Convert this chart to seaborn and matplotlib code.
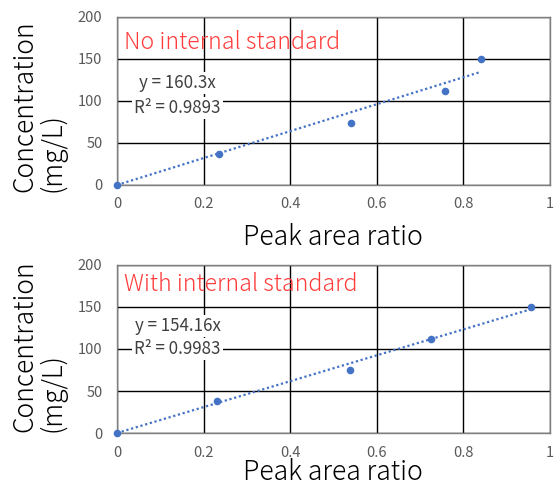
import matplotlib

matplotlib.use("Agg")
import matplotlib.pyplot as plt
import numpy as np
import pandas as pd
import seaborn as sns

# data
ratio_no_is = [0, 0.236, 0.540, 0.758, 0.840]
conc_no_is = [0, 37, 74, 112, 150]
slope_no_is = 160.3

ratio_is = [0, 0.230, 0.537, 0.725, 0.955]
conc_is = [0, 38, 75, 112, 150]
slope_is = 154.16

titles = ["No internal standard", "With internal standard"]
slope_labels = ["y = 160.3x", "y = 154.16x"]
r2_labels = ["R² = 0.9893", "R² = 0.9983"]
x_ticks = [0, 0.2, 0.4, 0.6, 0.8, 1.0]
x_tick_labels = ["0", "0.2", "0.4", "0.6", "0.8", "1"]
y_ticks = [0, 50, 100, 150, 200]

sns.set_style("white")
plt.rcParams["font.family"] = ["Noto Sans CJK JP", "DejaVu Sans"]

BLUE = "#4472C4"
RED = "#FF3B3B"
GREY = "#595959"

W, H = 554, 486
fig = plt.figure(figsize=(W / 100, H / 100), dpi=100)

# per panel: data, slope, axes top px, title y, eq y, r2 y, ylabel bottom px, xlabel baseline px
panels = [
    (ratio_no_is, conc_no_is, slope_no_is, 17, 0.851, 0.607, 0.458, 192, 245),
    (ratio_is, conc_is, slope_is, 265, 0.881, 0.637, 0.500, 432, 480),
]

for i, (xs, ys, slope, top_px, ty, ey, ry, ylab_px, xlab_px) in enumerate(panels):
    ax = fig.add_axes([117 / W, (H - top_px - 168) / H, 433 / W, 168 / H])
    df = pd.DataFrame({"ratio": xs, "conc": ys})
    fit = pd.DataFrame({"ratio": [0, max(xs)]})
    fit["conc"] = slope * fit["ratio"]

    sns.lineplot(data=fit, x="ratio", y="conc", ax=ax, color=BLUE,
                 linestyle=(0, (1, 1.2)), linewidth=1.6, zorder=3)
    sns.scatterplot(data=df, x="ratio", y="conc", ax=ax, color=BLUE,
                    s=30, edgecolor=BLUE, linewidth=0, zorder=4, clip_on=False)

    ax.set_xlim(0, 1)
    ax.set_ylim(0, 200)
    ax.set_xticks(x_ticks)
    ax.set_xticklabels(x_tick_labels)
    ax.set_yticks(y_ticks)
    ax.grid(True, color="black", linewidth=1.0)
    ax.set_axisbelow(True)
    for s in ax.spines.values():
        s.set_color("#7f7f7f")
        s.set_linewidth(1.0)
    ax.tick_params(length=0, labelsize=10.5, labelcolor=GREY)
    ax.tick_params(axis="x", pad=9)
    ax.tick_params(axis="y", pad=10.5)
    ax.set_xlabel("")
    ax.set_ylabel("")

    fig.text(333 / W, (H - xlab_px) / H, "Peak area ratio", fontsize=19.2,
             fontweight="light", color="black", ha="center", va="baseline")
    fig.text(38 / W, (H - ylab_px) / H, "Concentration\n(mg/L)", fontsize=19,
             fontweight="light", color="black", rotation=90, ha="center",
             va="bottom", multialignment="left", linespacing=1.0)

    ax.text(0.016, ty, titles[i], transform=ax.transAxes, color=RED,
            fontsize=16.7, fontweight="light", va="center", ha="left")
    box = dict(facecolor="white", edgecolor="none", pad=1.5)
    ax.text(0.14, ey, slope_labels[i], transform=ax.transAxes, color="#404040",
            fontsize=12.2, ha="center", va="center", bbox=box, zorder=5)
    ax.text(0.14, ry, r2_labels[i], transform=ax.transAxes, color="#404040",
            fontsize=12.2, ha="center", va="center", bbox=box, zorder=5)

fig.savefig("out.png", dpi=100)
plt.close()
